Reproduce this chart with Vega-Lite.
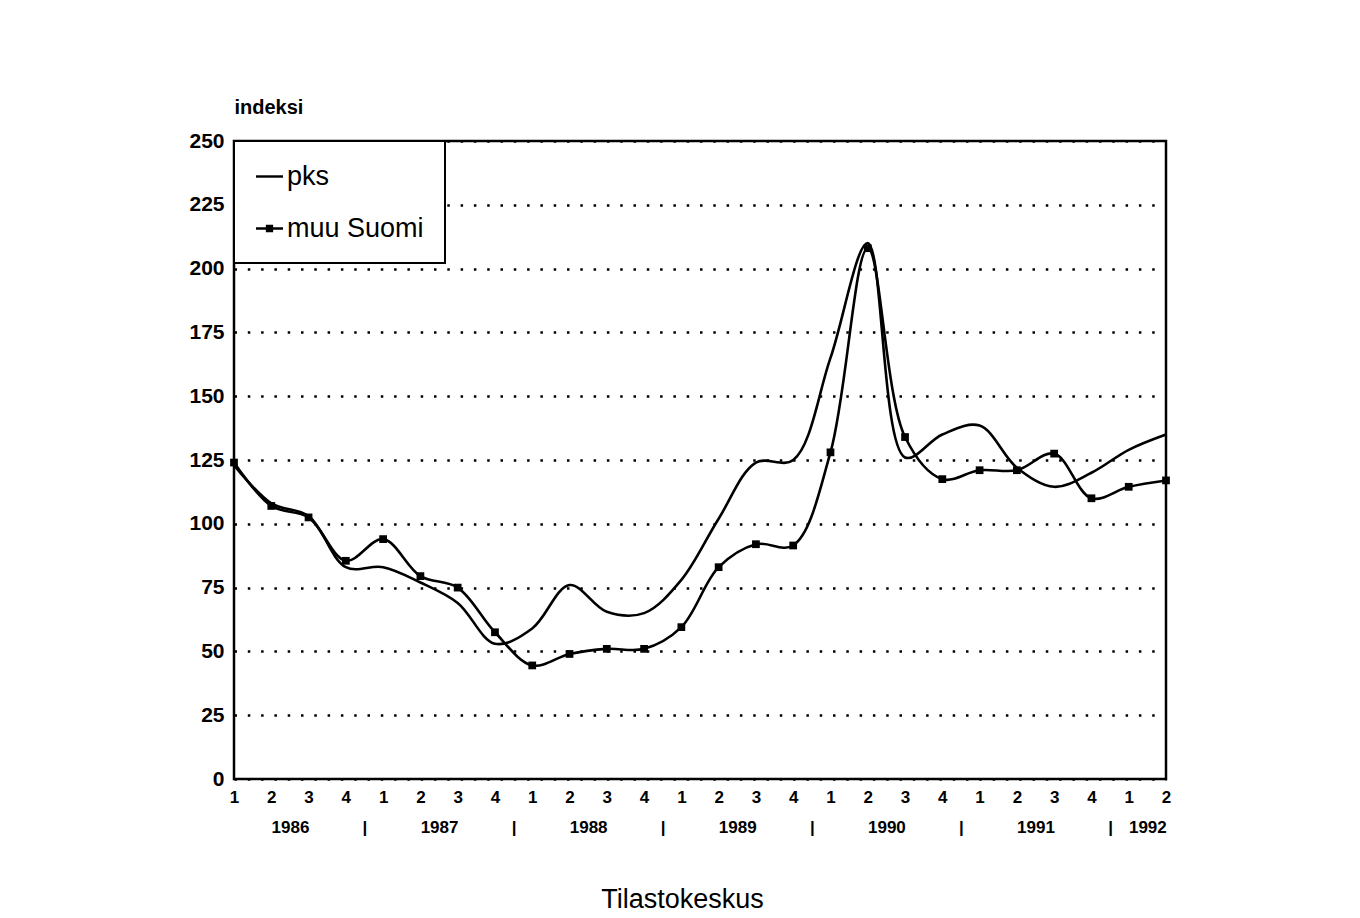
{
  "$schema": "https://vega.github.io/schema/vega-lite/v6.json",
  "width": 932,
  "height": 638,
  "autosize": {"type": "none"},
  "padding": {"left": 234, "top": 141, "right": 194, "bottom": 139},
  "background": "white",
  "config": {
    "font": "Liberation Sans",
    "view": {"stroke": "black", "strokeWidth": 2.5},
    "legend": {
      "strokeColor": "black",
      "strokeWidth": 2,
      "fillColor": "white",
      "padding": 21,
      "labelFont": "Liberation Sans",
      "labelFontSize": 27,
      "labelColor": "black",
      "labelOffset": 3,
      "labelLimit": 300,
      "symbolSize": 729,
      "symbolFillColor": "black",
      "symbolOpacity": 1,
      "rowPadding": 24
    }
  },
  "data": {
    "values": [
      {"t": 0, "series": "pks", "value": 123},
      {"t": 1, "series": "pks", "value": 108},
      {"t": 2, "series": "pks", "value": 103},
      {"t": 3, "series": "pks", "value": 83},
      {"t": 4, "series": "pks", "value": 83},
      {"t": 5, "series": "pks", "value": 77},
      {"t": 6, "series": "pks", "value": 69},
      {"t": 7, "series": "pks", "value": 53},
      {"t": 8, "series": "pks", "value": 59},
      {"t": 9, "series": "pks", "value": 76},
      {"t": 10, "series": "pks", "value": 65.5},
      {"t": 11, "series": "pks", "value": 65},
      {"t": 12, "series": "pks", "value": 78},
      {"t": 13, "series": "pks", "value": 102},
      {"t": 14, "series": "pks", "value": 124},
      {"t": 15, "series": "pks", "value": 125},
      {"t": 16, "series": "pks", "value": 165},
      {"t": 17, "series": "pks", "value": 210},
      {"t": 18, "series": "pks", "value": 126},
      {"t": 19, "series": "pks", "value": 135},
      {"t": 20, "series": "pks", "value": 138.5},
      {"t": 21, "series": "pks", "value": 122},
      {"t": 22, "series": "pks", "value": 114.5},
      {"t": 23, "series": "pks", "value": 120},
      {"t": 24, "series": "pks", "value": 129},
      {"t": 25, "series": "pks", "value": 135},
      {"t": 0, "series": "muu Suomi", "value": 124},
      {"t": 1, "series": "muu Suomi", "value": 107},
      {"t": 2, "series": "muu Suomi", "value": 102.5},
      {"t": 3, "series": "muu Suomi", "value": 85.5},
      {"t": 4, "series": "muu Suomi", "value": 94},
      {"t": 5, "series": "muu Suomi", "value": 79.5},
      {"t": 6, "series": "muu Suomi", "value": 75},
      {"t": 7, "series": "muu Suomi", "value": 57.5},
      {"t": 8, "series": "muu Suomi", "value": 44.5},
      {"t": 9, "series": "muu Suomi", "value": 49},
      {"t": 10, "series": "muu Suomi", "value": 51},
      {"t": 11, "series": "muu Suomi", "value": 51},
      {"t": 12, "series": "muu Suomi", "value": 59.5},
      {"t": 13, "series": "muu Suomi", "value": 83},
      {"t": 14, "series": "muu Suomi", "value": 92},
      {"t": 15, "series": "muu Suomi", "value": 91.5},
      {"t": 16, "series": "muu Suomi", "value": 128},
      {"t": 17, "series": "muu Suomi", "value": 208},
      {"t": 18, "series": "muu Suomi", "value": 134},
      {"t": 19, "series": "muu Suomi", "value": 117.5},
      {"t": 20, "series": "muu Suomi", "value": 121},
      {"t": 21, "series": "muu Suomi", "value": 121},
      {"t": 22, "series": "muu Suomi", "value": 127.5},
      {"t": 23, "series": "muu Suomi", "value": 110},
      {"t": 24, "series": "muu Suomi", "value": 114.5},
      {"t": 25, "series": "muu Suomi", "value": 117}
    ]
  },
  "encoding": {
    "x": {
      "field": "t",
      "type": "quantitative",
      "scale": {"domain": [0, 25], "nice": false, "zero": false},
      "axis": {
        "values": [0, 1, 1.5, 2, 3, 3.5, 4, 5, 5.5, 6, 7, 7.5, 8, 9, 9.5, 10, 11, 11.5, 12, 13, 13.5, 14, 15, 15.5, 16, 17, 17.5, 18, 19, 19.5, 20, 21, 21.5, 22, 23, 23.5, 24, 24.5, 25],
        "labelExpr": "datum.value % 1 === 0 ? '' + (datum.value % 4 + 1) : (datum.value % 4 === 3.5 ? ['', '|'] : ['', '' + (1986 + floor((datum.value + 0.5) / 4))])",
        "labelOverlap": false,
        "labelFlush": false,
        "labelBound": false,
        "labelBaseline": "top",
        "labelLineHeight": 30,
        "labelFont": "Liberation Sans",
        "labelFontSize": 17,
        "labelFontWeight": "bold",
        "labelColor": "black",
        "labelPadding": 10,
        "ticks": false,
        "domain": false,
        "grid": false,
        "title": "Tilastokeskus",
        "titleX": 448,
        "titleY": 128,
        "titleAlign": "center",
        "titleAnchor": null,
        "titleBaseline": "alphabetic",
        "titleFont": "Liberation Sans",
        "titleFontSize": 27,
        "titleFontWeight": "normal",
        "titleColor": "black"
      }
    },
    "y": {
      "field": "value",
      "type": "quantitative",
      "scale": {"domain": [0, 250], "nice": false},
      "axis": {
        "values": [0, 25, 50, 75, 100, 125, 150, 175, 200, 225, 250],
        "labelFont": "Liberation Sans",
        "labelFontSize": 21,
        "labelFontWeight": "bold",
        "labelColor": "black",
        "labelPadding": 10,
        "ticks": false,
        "domain": false,
        "grid": true,
        "gridColor": "black",
        "gridOpacity": 1,
        "gridWidth": 2.5,
        "gridDash": [2.5, 10.8],
        "title": "indeksi",
        "titleAngle": 0,
        "titleAlign": "left",
        "titleAnchor": null,
        "titleX": 0,
        "titleY": -28,
        "titleBaseline": "alphabetic",
        "titleFont": "Liberation Sans",
        "titleFontSize": 20,
        "titleFontWeight": "bold",
        "titleColor": "black"
      }
    }
  },
  "layer": [
    {
      "mark": {"type": "line", "interpolate": "catmull-rom", "color": "black", "strokeWidth": 2.6},
      "encoding": {"detail": {"field": "series", "type": "nominal"}}
    },
    {
      "transform": [{"filter": "datum.series === 'muu Suomi'"}],
      "mark": {"type": "point", "shape": "square", "filled": true, "color": "black", "size": 60, "opacity": 1}
    },
    {
      "transform": [{"filter": "datum.value < -1000"}],
      "mark": {"type": "point", "filled": true, "color": "black", "opacity": 1},
      "encoding": {
        "shape": {
          "field": "series",
          "type": "nominal",
          "scale": {"domain": ["pks", "muu Suomi"], "range": ["M-1,-0.09H1V0.09H-1Z", "M-1,-0.09H1V0.09H-1ZM-0.27,-0.27H0.27V0.27H-0.27Z"]},
          "legend": {"title": null, "orient": "top-left", "offset": 0}
        }
      }
    }
  ]
}
